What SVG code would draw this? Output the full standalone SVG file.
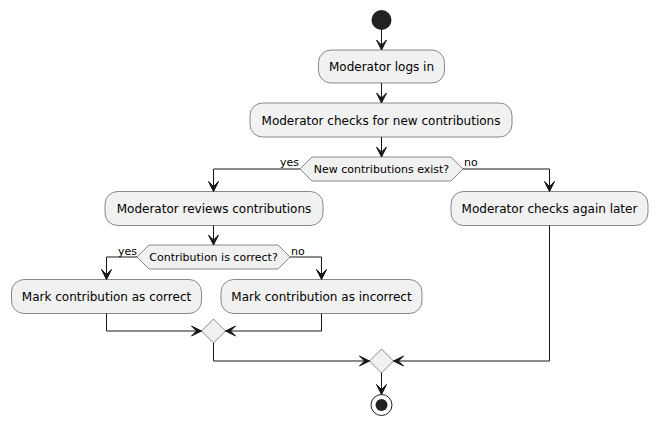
<svg xmlns="http://www.w3.org/2000/svg" width="658" height="425" viewBox="0 0 658 425">
<style>
.act{fill:#F1F1F1;stroke:#181818;stroke-width:0.5}
.t{font-family:"DejaVu Sans",sans-serif;font-size:12px;fill:#000;text-anchor:middle}
.d{font-family:"DejaVu Sans",sans-serif;font-size:11px;fill:#000;text-anchor:middle}
.l{font-family:"DejaVu Sans",sans-serif;font-size:11px;fill:#000}
.ln{fill:none;stroke:#181818;stroke-width:1}
.ah{fill:#181818;stroke:#181818;stroke-width:1}
</style>
<rect width="658" height="425" fill="#FFFFFF"/>
<g id="start"><circle cx="381.5" cy="20" r="10" fill="#222222"/></g>
<g id="n1"><rect class="act" x="318.5" y="50" width="126" height="33" rx="12.5"/><text class="t" x="381.5" y="71">Moderator logs in</text></g>
<g id="n2"><rect class="act" x="250" y="103" width="262" height="34" rx="12.5"/><text class="t" x="381" y="124.5">Moderator checks for new contributions</text></g>
<g id="d1"><polygon class="act" points="300,169 312,157 451,157 463,169 451,181 312,181"/><text class="d" x="381.5" y="173">New contributions exist?</text></g>
<g id="n3"><rect class="act" x="105" y="191.5" width="218" height="34" rx="12.5"/><text class="t" x="214" y="213">Moderator reviews contributions</text></g>
<g id="n4"><rect class="act" x="451" y="191.5" width="197" height="34" rx="12.5"/><text class="t" x="549.5" y="213">Moderator checks again later</text></g>
<g id="d2"><polygon class="act" points="137,257 149,245 278,245 290,257 278,269 149,269"/><text class="d" x="213.5" y="261">Contribution is correct?</text></g>
<g id="n5"><rect class="act" x="11.5" y="279.5" width="190" height="34" rx="12.5"/><text class="t" x="106.5" y="301">Mark contribution as correct</text></g>
<g id="n6"><rect class="act" x="221" y="279.5" width="201" height="34" rx="12.5"/><text class="t" x="321.5" y="301">Mark contribution as incorrect</text></g>
<g id="m1"><polygon class="act" points="213.5,319 225.5,331 213.5,343 201.5,331"/></g>
<g id="m2"><polygon class="act" points="381.5,349 393.5,361 381.5,373 369.5,361"/></g>
<g id="end"><circle cx="381.5" cy="405" r="10.5" fill="#FFFFFF" stroke="#222222" stroke-width="1"/><circle cx="381.5" cy="405" r="6" fill="#222222"/></g>
<g id="connectors">
<path class="ln" d="M381.5,30 V50"/>
<polygon class="ah" points="376.5,40 381.5,50 386.5,40 381.5,45"/>
<path class="ln" d="M381.5,83 V103"/>
<polygon class="ah" points="376.5,93 381.5,103 386.5,93 381.5,98"/>
<path class="ln" d="M381.5,137 V157"/>
<polygon class="ah" points="376.5,147 381.5,157 386.5,147 381.5,152"/>
<path class="ln" d="M300,169 H213.5 V191.5"/>
<polygon class="ah" points="208.5,181.5 213.5,191.5 218.5,181.5 213.5,186.5"/>
<text class="l" x="299" y="166" text-anchor="end">yes</text>
<path class="ln" d="M463,169 H549.5 V191.5"/>
<polygon class="ah" points="544.5,181.5 549.5,191.5 554.5,181.5 549.5,186.5"/>
<text class="l" x="464" y="166">no</text>
<path class="ln" d="M213.5,225.5 V245"/>
<polygon class="ah" points="208.5,235 213.5,245 218.5,235 213.5,240"/>
<path class="ln" d="M137,257 H106.5 V279.5"/>
<polygon class="ah" points="101.5,269.5 106.5,279.5 111.5,269.5 106.5,274.5"/>
<text class="l" x="137" y="255" text-anchor="end">yes</text>
<path class="ln" d="M290,257 H321.5 V279.5"/>
<polygon class="ah" points="316.5,269.5 321.5,279.5 326.5,269.5 321.5,274.5"/>
<text class="l" x="291" y="255">no</text>
<path class="ln" d="M106.5,313.5 V331 H201.5"/>
<polygon class="ah" points="191.5,326 201.5,331 191.5,336 196.5,331"/>
<path class="ln" d="M321.5,313.5 V331 H225.5"/>
<polygon class="ah" points="235.5,326 225.5,331 235.5,336 230.5,331"/>
<path class="ln" d="M213.5,343 V361 H369.5"/>
<polygon class="ah" points="359.5,356 369.5,361 359.5,366 364.5,361"/>
<path class="ln" d="M549.5,225.5 V361 H393.5"/>
<polygon class="ah" points="403.5,356 393.5,361 403.5,366 398.5,361"/>
<path class="ln" d="M381.5,373 V394.5"/>
<polygon class="ah" points="376.5,384.5 381.5,394.5 386.5,384.5 381.5,389.5"/>
</g>
</svg>
